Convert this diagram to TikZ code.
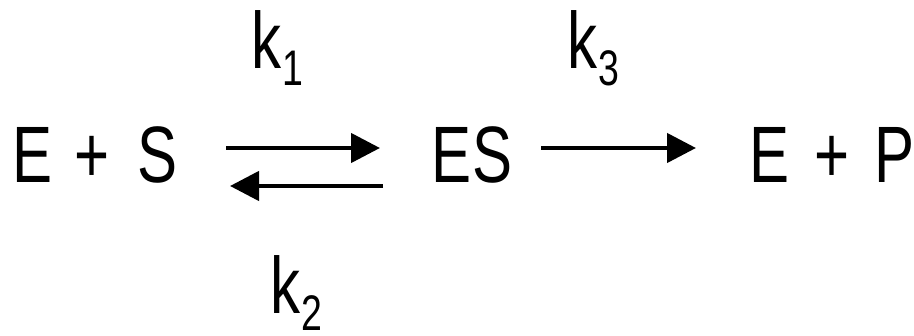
\documentclass[tikz,border=0pt]{standalone}
\usepackage{fontspec}
\setmainfont{Liberation Sans}[FakeStretch=0.75]
\usetikzlibrary{arrows.meta}
\begin{document}
\begin{tikzpicture}[x=1pt,y=-1pt,
  species/.style={inner sep=0pt, anchor=base, font=\fontsize{80}{80}\selectfont},
  rate/.style={inner sep=0pt, anchor=base west, font=\fontsize{80}{80}\selectfont},
  rxn/.style={line width=4.5pt, -{Triangle[length=29pt,width=29pt]}}]
\useasboundingbox (0,0) rectangle (914,336);
% species
\node[species] (E1) at (32.5,183) {E};
\node[species] (pl1) at (92.5,183) {+};
\node[species] (S1) at (158,183) {S};
\node[species] (ES) at (472,183) {ES};
\node[species] (E2) at (770,183) {E};
\node[species] (pl2) at (832.5,183) {+};
\node[species] (P2) at (895,183) {P};
% rate constants
\newcommand{\subdig}[1]{\kern1pt\raisebox{-17pt}{\fontsize{50}{50}\selectfont #1}}
\node[rate] (k1) at (251,69) {k\subdig{1}};
\node[rate] (k2) at (270,314) {k\subdig{2}};
\node[rate] (k3) at (567,69) {k\subdig{3}};
% arrow end points
\coordinate (f1s) at (226,148);
\coordinate (f1e) at (380,148);
\coordinate (b1s) at (383,186);
\coordinate (b1e) at (230,186);
\coordinate (f2s) at (541,148);
\coordinate (f2e) at (696,148);
\draw[rxn] (f1s) -- (f1e);
\draw[rxn] (b1s) -- (b1e);
\draw[rxn] (f2s) -- (f2e);
\end{tikzpicture}
\end{document}
